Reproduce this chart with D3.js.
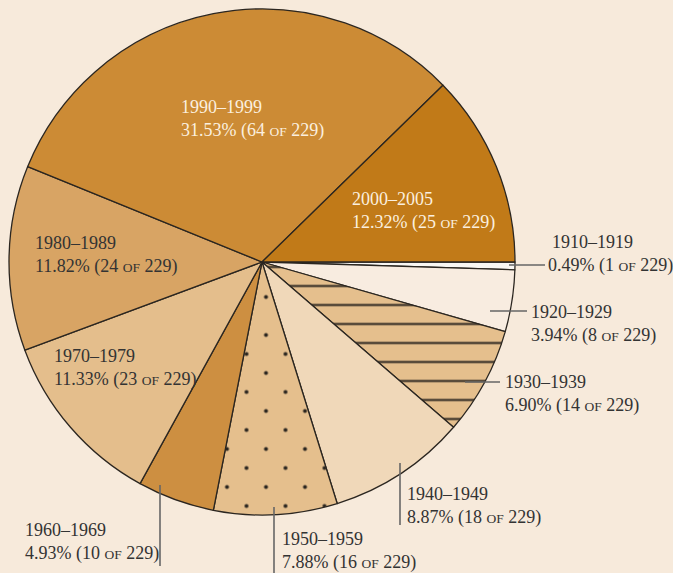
<!DOCTYPE html>
<html>
<head>
<meta charset="utf-8">
<script src="https://cdn.jsdelivr.net/npm/d3@7"></script>
<style>
  html, body { margin: 0; padding: 0; background: #f7eadb; }
  svg { display: block; }
  text { font-family: "Liberation Serif", "DejaVu Serif", serif; font-size: 18px; }
</style>
</head>
<body>
<div id="container"></div>
<script>
// decades, clockwise from 3 o'clock
var decades = ['1910–1919', '1920–1929', '1930–1939', '1940–1949', '1950–1959',
               '1960–1969', '1970–1979', '1980–1989', '1990–1999', '2000–2005']
var counts  = [1, 8, 14, 18, 16, 10, 23, 24, 64, 25]
var percents = ['0.49', '3.94', '6.90', '8.87', '7.88', '4.93', '11.33', '11.82', '31.53', '12.32']
var totalLabel = 229

var fills = ['#f9f7f3', '#f8ece0', 'url(#hatch)', '#f0d8b9', 'url(#dots)',
             '#cd8f41', '#e4be8c', '#d8a464', '#cc8b35', '#c17a18']

// label layout: text x, first baseline, text colour, optional leader [x1,y1,x2,y2]
var labelPos = {
  '1910–1919': { x: 552, y: 248, x2: 548, fill: '#333', leader: [509, 265, 545, 265] },
  '1920–1929': { x: 531, y: 318, fill: '#333', leader: [490, 311, 527, 311] },
  '1930–1939': { x: 505, y: 388, fill: '#333', leader: [465, 382, 500, 382] },
  '1940–1949': { x: 407, y: 500, fill: '#333', leader: [400, 463, 400, 525] },
  '1950–1959': { x: 282, y: 545, fill: '#333', leader: [274, 507, 274, 573] },
  '1960–1969': { x: 25,  y: 536, fill: '#333', leader: [160, 485, 160, 566] },
  '1970–1979': { x: 54,  y: 362, fill: '#333' },
  '1980–1989': { x: 35,  y: 249, fill: '#333' },
  '1990–1999': { x: 181, y: 113, fill: '#fbefdf' },
  '2000–2005': { x: 352, y: 205, fill: '#fbefdf' }
}

var WIDTH = 673
var HEIGHT = 573
var cx = 262, cy = 262, radius = 253

var svg = d3.select('div#container').append('svg')
  .attr('width', WIDTH)
  .attr('height', HEIGHT)

svg.append('rect')
  .attr('width', WIDTH)
  .attr('height', HEIGHT)
  .attr('fill', '#f7eadb')

var defs = svg.append('defs')

var hatch = defs.append('pattern')
  .attr('id', 'hatch')
  .attr('patternUnits', 'userSpaceOnUse')
  .attr('x', 0).attr('y', 14.5)
  .attr('width', 40).attr('height', 19)
hatch.append('rect').attr('width', 40).attr('height', 19).attr('fill', '#e5bf8d')
hatch.append('line')
  .attr('x1', 0).attr('x2', 40).attr('y1', 9.5).attr('y2', 9.5)
  .attr('stroke', '#2b2620').attr('stroke-width', 2)

var dots = defs.append('pattern')
  .attr('id', 'dots')
  .attr('patternUnits', 'userSpaceOnUse')
  .attr('x', 228.5).attr('y', 405.5)
  .attr('width', 39).attr('height', 38)
dots.append('rect').attr('width', 39).attr('height', 38).attr('fill', '#e5bf8d')
dots.append('circle').attr('cx', 9.5).attr('cy', 9.5).attr('r', 2).attr('fill', '#2b2620')
dots.append('circle').attr('cx', 29).attr('cy', 28.5).attr('r', 2).attr('fill', '#2b2620')

var pie = d3.pie()
  .sort(null)
  .value(function (d) { return d })
  .startAngle(Math.PI / 2)
  .endAngle(Math.PI / 2 + 2 * Math.PI)

var arc = d3.arc().innerRadius(0).outerRadius(radius)

var g = svg.append('g').attr('transform', 'translate(' + cx + ',' + cy + ')')

g.selectAll('path.slice')
  .data(pie(counts))
  .enter().append('path')
  .attr('class', 'slice')
  .attr('d', arc)
  .attr('fill', function (d, i) { return fills[i] })
  .attr('stroke', '#2b2620')
  .attr('stroke-width', 1.3)
  .attr('stroke-linejoin', 'round')

// leaders
decades.forEach(function (name) {
  var p = labelPos[name]
  if (!p.leader) return
  svg.append('line')
    .attr('x1', p.leader[0]).attr('y1', p.leader[1])
    .attr('x2', p.leader[2]).attr('y2', p.leader[3])
    .attr('stroke', '#666')
    .attr('stroke-width', 1.6)
})

// labels
decades.forEach(function (name, i) {
  var p = labelPos[name]
  svg.append('text')
    .attr('x', p.x).attr('y', p.y)
    .attr('fill', p.fill)
    .text(name)

  var t = svg.append('text')
    .attr('x', p.x2 !== undefined ? p.x2 : p.x)
    .attr('y', p.y + 23)
    .attr('fill', p.fill)
  t.append('tspan').text(percents[i] + '% (' + counts[i] + ' ')
  t.append('tspan').style('font-size', '13.5px').text('OF')
  t.append('tspan').text(' ' + totalLabel + ')')
})
</script>
</body>
</html>
